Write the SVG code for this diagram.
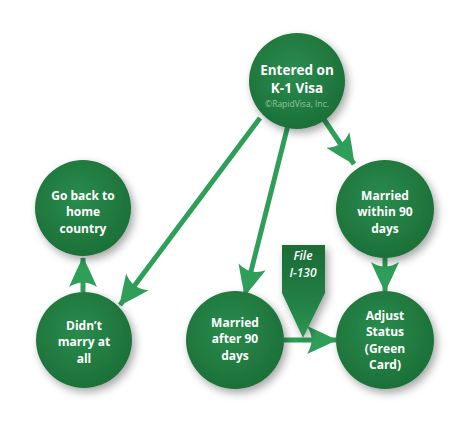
<svg xmlns="http://www.w3.org/2000/svg" width="472" height="427" viewBox="0 0 472 427">
<defs>
<radialGradient id="g" cx="0.45" cy="0.4" r="0.6">
<stop offset="0" stop-color="#2a8c4e"/>
<stop offset="1" stop-color="#1c7038"/>
</radialGradient>
<linearGradient id="tag" x1="0" y1="0" x2="0" y2="1">
<stop offset="0" stop-color="#1a6b36"/>
<stop offset="0.6" stop-color="#237f45"/>
<stop offset="1" stop-color="#2c9652"/>
</linearGradient>
<filter id="sh" x="-30%" y="-30%" width="170%" height="170%">
<feDropShadow dx="3" dy="4" stdDeviation="4" flood-color="#000" flood-opacity="0.35"/>
</filter>
<marker id="ah" viewBox="0 0 30 30" refX="29" refY="15" markerWidth="30" markerHeight="30" markerUnits="userSpaceOnUse" orient="auto">
<path d="M0,1 Q16,8 30,15 Q16,22 0,29 Q9,15 0,1 Z" fill="#2e9e58"/>
</marker>
<style>
.c{fill:url(#g);filter:url(#sh)}
.t{font-family:"Open Sans","DejaVu Sans",sans-serif;font-weight:bold;font-size:12px;fill:#fff;text-anchor:middle}
.e{stroke:#2e9e58;stroke-width:5;fill:none;marker-end:url(#ah)}
</style>
</defs>
<rect width="472" height="427" fill="#fff"/>
<g id="connectors">
<line class="e" x1="260" y1="118" x2="120" y2="305"/>
<line class="e" x1="288" y1="125" x2="245" y2="295"/>
<line class="e" x1="323" y1="118" x2="354" y2="164"/>
<line class="e" x1="385" y1="256" x2="385" y2="291"/>
<line class="e" x1="83" y1="292" x2="83" y2="258"/>
<line class="e" x1="284" y1="340" x2="336" y2="340"/>
</g>
<g id="entered">
<circle class="c" cx="297" cy="81" r="48"/>
<text class="t" style="font-size:13.5px" x="297" y="75">Entered on<tspan x="297" dy="18.4">K-1 Visa</tspan></text>
<text x="297" y="107" style="font-family:'Open Sans',sans-serif;font-size:8.5px;fill:#8fc79f;text-anchor:middle">©RapidVisa, Inc.</text>
</g>
<g id="within">
<circle class="c" cx="385" cy="209" r="49"/>
<text class="t" x="385" y="200">Married<tspan x="385" dy="16.4">within 90</tspan><tspan x="385" dy="16.4">days</tspan></text>
</g>
<g id="adjust">
<circle class="c" cx="385" cy="340" r="49"/>
<text class="t" x="385" y="320">Adjust<tspan x="385" dy="16.4">Status</tspan><tspan x="385" dy="16.4">(Green</tspan><tspan x="385" dy="16.4">Card)</tspan></text>
</g>
<g id="after">
<circle class="c" cx="235" cy="340" r="49"/>
<text class="t" x="235" y="327">Married<tspan x="235" dy="16.4">after 90</tspan><tspan x="235" dy="16.4">days</tspan></text>
</g>
<g id="didnt">
<circle class="c" cx="84" cy="340" r="48"/>
<text class="t" x="84" y="330">Didn’t<tspan x="84" dy="16.4">marry at</tspan><tspan x="84" dy="16.4">all</tspan></text>
</g>
<g id="goback">
<circle class="c" cx="83" cy="208" r="48"/>
<text class="t" x="83" y="200">Go back to<tspan x="83" dy="16.4">home</tspan><tspan x="83" dy="16.4">country</tspan></text>
</g>
<g id="file">
<path d="M282,245 H325 V293 L303,338 L282,293 Z" fill="url(#tag)" filter="url(#sh)"/>
<text x="303" y="260" style="font-family:'Open Sans',sans-serif;font-style:italic;font-weight:600;font-size:12px;fill:#fff;text-anchor:middle">File<tspan x="303" dy="16.5">I-130</tspan></text>
</g>
</svg>
